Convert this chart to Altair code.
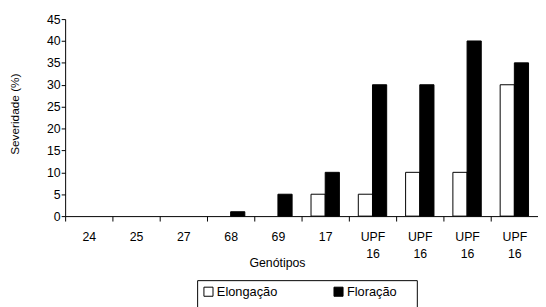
import json
import altair as alt
import pandas as pd

labels = ["24", "25", "27", "68", "69", "17", "UPF 16", "UPF 16", "UPF 16", "UPF 16"]
series = ["Elongação", "Floração"]
elongacao = [0, 0, 0, 0, 0, 5, 5, 10, 10, 30]
floracao = [0, 0, 0, 1, 5, 10, 30, 30, 40, 35]

rows = []
for i in range(len(labels)):
    rows.append({"idx": i, "serie": series[0], "valor": elongacao[i]})
    rows.append({"idx": i, "serie": series[1], "valor": floracao[i]})
df = pd.DataFrame(rows)

FONT = "Liberation Sans"
FS = 12.5
label_expr = "split(" + json.dumps(labels) + "[datum.value], ' ')"

chart = alt.Chart(df).transform_filter(
    "datum.valor > 0"
).mark_bar(stroke="black", strokeWidth=1).encode(
    x=alt.X(
        "idx:O",
        scale=alt.Scale(domain=list(range(len(labels))), paddingInner=0.4, paddingOuter=0.2),
        axis=alt.Axis(
            title="Genótipos",
            labelExpr=label_expr,
            labelAngle=0,
            labelBaseline="top",
            labelPadding=10,
            labelLineHeight=17,
            tickOffset=-24,
            labelOffset=24,
            tickSize=5,
            titleX=215,
            titleY=47,
            titleBaseline="middle",
        ),
    ),
    xOffset=alt.XOffset("serie:N", sort=series, scale=alt.Scale(domain=series, paddingInner=0, paddingOuter=0)),
    y=alt.Y(
        "valor:Q",
        scale=alt.Scale(domain=[0, 45], nice=False),
        axis=alt.Axis(
            title="Severidade (%)",
            values=list(range(0, 50, 5)),
            tickSize=4,
            labelPadding=1,
            titleX=-51,
            titleY=96,
            titleBaseline="middle",
            titleFontSize=12,
        ),
    ),
    fill=alt.Fill(
        "serie:N",
        sort=series,
        scale=alt.Scale(domain=series, range=["white", "black"]),
        legend=alt.Legend(
            title="\u00a0",
            titleOrient="right",
            titleFontSize=22,
            titlePadding=15,
            orient="none",
            legendX=134,
            legendY=265,
            direction="horizontal",
            columns=2,
            columnPadding=54,
            symbolType="square",
            symbolSize=85,
            symbolStrokeColor="black",
            symbolStrokeWidth=1,
            labelOffset=2,
            strokeColor="black",
            padding=5,
            labelFont=FONT,
            labelFontSize=13,
            labelColor="black",
        ),
    ),
).properties(
    width=480,
    height=200,
    autosize=alt.AutoSizeParams(type="none"),
    padding={"left": 58, "top": 9, "right": 0, "bottom": 90},
).configure_view(
    stroke=None
).configure_axis(
    grid=False,
    domainColor="black",
    tickColor="black",
    labelColor="black",
    titleColor="black",
    labelFont=FONT,
    titleFont=FONT,
    labelFontSize=FS,
    titleFontSize=FS,
    titleFontWeight="normal",
)

chart.save("out.html", embed_options={"renderer": "svg", "actions": False})
